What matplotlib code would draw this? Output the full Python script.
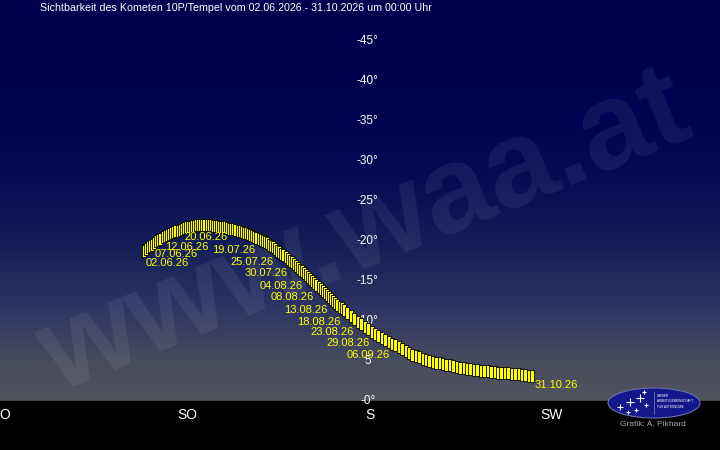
import matplotlib
matplotlib.use("Agg")
import matplotlib.pyplot as plt
import numpy as np
import pandas as pd
from matplotlib.colors import LinearSegmentedColormap
from matplotlib.patches import Ellipse, Rectangle

# daily comet position at 00:00, 02.06.2026 - 31.10.2026 (azimuth / altitude in deg)
dates = pd.date_range("2026-06-02", "2026-10-31", freq="D")
azimuth = [
    124.3, 124.8, 125.4, 125.9, 126.4, 126.9, 127.4, 127.9, 128.4, 129.0,
    129.5, 130.0, 130.5, 131.0, 131.5, 132.0, 132.6, 133.1, 133.6, 134.1,
    134.6, 135.1, 135.6, 136.1, 136.7, 137.2, 137.7, 138.2, 138.7, 139.2,
    139.8, 140.3, 140.8, 141.3, 141.8, 142.3, 142.8, 143.3, 143.9, 144.4,
    144.9, 145.4, 145.9, 146.4, 146.9, 147.5, 148.0, 148.5, 149.0, 149.5,
    150.0, 150.5, 151.0, 151.6, 152.1, 152.6, 153.1, 153.6, 154.1, 154.6,
    155.2, 155.7, 156.2, 156.7, 157.2, 157.7, 158.2, 158.7, 159.3, 159.8,
    160.3, 160.8, 161.3, 161.8, 162.3, 162.8, 163.4, 163.9, 164.4, 164.9,
    165.4, 165.9, 166.4, 166.9, 167.5, 168.0, 168.5, 169.0, 169.5, 170.0,
    170.5, 171.0, 171.6, 172.1, 172.6, 173.1, 173.7, 174.5, 175.4, 176.2,
    177.1, 177.9, 178.8, 179.6, 180.5, 181.3, 182.1, 183.0, 183.8, 184.7,
    185.5, 186.4, 187.2, 188.0, 188.9, 189.7, 190.6, 191.4, 192.3, 193.1,
    194.0, 194.8, 195.7, 196.5, 197.4, 198.2, 199.0, 199.9, 200.7, 201.6,
    202.4, 203.3, 204.1, 204.9, 205.8, 206.6, 207.5, 208.3, 209.2, 210.0,
    210.9, 211.7, 212.5, 213.4, 214.2, 215.1, 215.9, 216.8, 217.6, 218.5,
    219.3, 220.1,
]
altitude = [
    18.7, 18.95, 19.2, 19.35, 19.5, 19.75, 19.95, 20.1, 20.3, 20.5,
    20.6, 20.8, 20.9, 21.0, 21.1, 21.2, 21.3, 21.4, 21.55, 21.6,
    21.7, 21.75, 21.8, 21.85, 21.9, 21.95, 21.95, 22.0, 22.0, 22.0,
    22.0, 21.95, 21.95, 21.9, 21.9, 21.85, 21.8, 21.8, 21.75, 21.7,
    21.65, 21.55, 21.5, 21.45, 21.35, 21.3, 21.2, 21.1, 21.05, 20.95,
    20.85, 20.7, 20.6, 20.5, 20.4, 20.25, 20.15, 20.0, 19.85, 19.7,
    19.55, 19.4, 19.25, 19.05, 18.8, 18.6, 18.4, 18.2, 17.95, 17.75,
    17.55, 17.35, 17.1, 16.9, 16.65, 16.4, 16.2, 15.95, 15.7, 15.5,
    15.25, 15.05, 14.8, 14.5, 14.25, 14.0, 13.7, 13.45, 13.25, 13.0,
    12.75, 12.5, 12.25, 12.0, 11.8, 11.6, 11.4, 11.02, 10.64, 10.27,
    9.93, 9.59, 9.27, 8.96, 8.64, 8.37, 8.11, 7.86, 7.62, 7.39,
    7.17, 6.94, 6.7, 6.46, 6.23, 6.01, 5.79, 5.62, 5.46, 5.31,
    5.18, 5.04, 4.9, 4.8, 4.7, 4.6, 4.53, 4.46, 4.39, 4.28,
    4.18, 4.09, 4.02, 3.95, 3.88, 3.83, 3.78, 3.74, 3.69, 3.63,
    3.59, 3.56, 3.53, 3.5, 3.47, 3.43, 3.38, 3.32, 3.27, 3.21,
    3.16, 3.1,
]

# date labels and where they sit in the sky (az, alt)
label_text = ["02.06.26", "07.06.26", "12.06.26", "20.06.26", "19.07.26", "25.07.26",
              "30.07.26", "04.08.26", "08.08.26", "13.08.26", "18.08.26", "23.08.26",
              "29.08.26", "06.09.26", "31.10.26"]
label_az = [130.0, 132.2, 134.9, 139.6, 146.5, 151.0, 154.4, 158.1, 160.9, 164.3,
            167.5, 170.7, 174.7, 179.6, 226.0]
label_alt = [17.25, 18.4, 19.25, 20.5, 18.9, 17.4, 16.0, 14.4, 13.0, 11.4,
             9.9, 8.6, 7.25, 5.75, 2.0]

alt_ticks = [45, 40, 35, 30, 25, 20, 15, 10, 5, 0]
alt_tick_labels = ["-45°", "-40°", "-35°", "-30°", "-25°", "-20°", "-15°", "-10°", "5", "-0°"]
dir_az = [90, 135, 180, 225]
dir_names = ["O", "SO", "S", "SW"]

plt.rcParams['font.family'] = ['Liberation Sans', 'DejaVu Sans']

fig = plt.figure(figsize=(7.2, 4.5), dpi=100)
ax = fig.add_axes([0, 0, 1, 1])
x0, x1 = 88.77, 266.55
y0, y1 = -6.125, 50.125
ax.set_xlim(x0, x1)
ax.set_ylim(y0, y1)
ax.axis('off')
fig.patch.set_facecolor('black')

# sky gradient above the horizon
sky = LinearSegmentedColormap.from_list("sky", [
    (0.0, "#52545c"), (0.1, "#474b5f"), (0.25, "#2c3262"),
    (0.4, "#141c58"), (0.55, "#050c52"), (0.7, "#000450"), (1.0, "#00004e")])
grad = np.linspace(0, 1, 256).reshape(-1, 1)
ax.imshow(grad, cmap=sky, origin='lower', aspect='auto',
          extent=[x0, x1, 0, y1], zorder=0)

# watermark
ax.text(0.507, 0.48, "www.waa.at", transform=ax.transAxes, fontsize=88,
        fontweight='bold', color='white', alpha=0.07, rotation=22,
        ha='center', va='center', rotation_mode='anchor', zorder=1)

# ground
ax.add_patch(Rectangle((x0, y0), x1 - x0, -y0, color='black', zorder=2))

# comet track, one mark per day
bar = [(-0.15, -0.5), (0.15, -0.5), (0.15, 0.5), (-0.15, 0.5), (-0.15, -0.5)]
ax.scatter(azimuth, altitude, marker=bar, s=74, c='#ffff00',
           edgecolors='black', linewidths=0.6, zorder=4)

for t, a, h in zip(label_text, label_az, label_alt):
    ax.text(a, h, t, color='#ffff00', fontsize=8, ha='center', va='center', zorder=5)

for h, t in zip(alt_ticks, alt_tick_labels):
    ax.text(179.6, h, t, color='white', fontsize=8.5, ha='center', va='center', zorder=3)

for a, n in zip(dir_az, dir_names):
    ax.text(a, -1.75, n, color='white', fontsize=10, ha='center', va='center', zorder=3)

fig.text(40 / 720, 1 - 8 / 450,
         "Sichtbarkeit des Kometen 10P/Tempel vom 02.06.2026 - 31.10.2026 um 00:00 Uhr",
         color='white', fontsize=7.7, ha='left', va='center')

# logo
lax = fig.add_axes([600 / 720, 0, 120 / 720, 72 / 450])
lax.set_xlim(600, 720)
lax.set_ylim(450, 378)
lax.axis('off')
lax.add_patch(Ellipse((654, 403), 92, 30, facecolor='#12188a', edgecolor='#6a70b0', lw=0.8))
lax.plot([654, 654], [392, 414], color='#8088c8', lw=0.5)
for sx, sy, ss in [(620, 407, 14), (630, 402, 18), (640, 398, 16), (644, 392, 10),
                   (636, 410, 9), (628, 412, 7), (646, 405, 7)]:
    lax.plot(sx, sy, marker='+', color='white', ms=ss / 3, mew=0.8)
lax.text(657, 396, "WIENER", color='white', fontsize=2.2, ha='left', va='center')
lax.text(657, 401.5, "ARBEITSGEMEINSCHAFT", color='white', fontsize=2.2, ha='left', va='center')
lax.text(657, 407, "FÜR ASTRONOMIE", color='white', fontsize=2.2, ha='left', va='center')
lax.text(653, 424, "Grafik: A. Pikhard", color='#a8a8a8', fontsize=6, ha='center', va='center')

fig.savefig("out.png", dpi=100, facecolor='black')
